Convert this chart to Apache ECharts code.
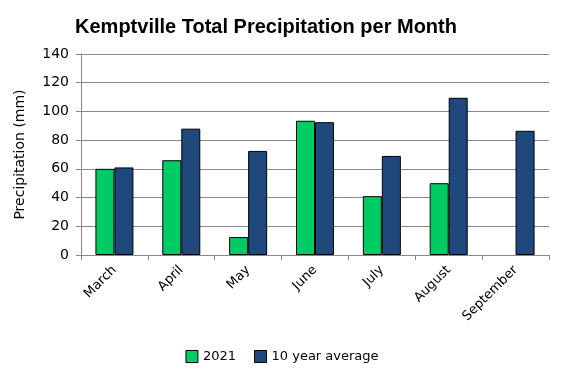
<!DOCTYPE html>
<html><head><meta charset="utf-8">
<script src="https://cdn.jsdelivr.net/npm/echarts@6/dist/echarts.min.js"></script>
<style>html,body{margin:0;padding:0;background:#fff}#c{width:564px;height:373px}</style>
</head><body><div id="c"></div>
<script>
const categories = ['March','April','May','June','July','August','September'];
const values2021 = [60, 66, 12.5, 93.5, 41, 50, null];
const valuesAvg = [61, 88, 72.5, 92.5, 69, 109.5, 86.5];
const yTicks = [0, 20, 40, 60, 80, 100, 120, 140];

const chart = echarts.init(document.getElementById('c'));
const font = 'DejaVu Sans';
chart.setOption({
  animation: false,
  backgroundColor: '#fff',
  title: {
    text: 'Kemptville Total Precipitation per Month',
    left: 261, top: 12, textAlign: 'center',
    textStyle: {fontFamily: 'Liberation Sans', fontWeight: 'bold', fontSize: 20, color: '#000'}
  },
  legend: {
    data: ['2021', '10 year average'],
    left: 'center', top: 345, itemWidth: 12, itemHeight: 12, itemGap: 18,
    icon: 'rect',
    textStyle: {fontFamily: font, fontSize: 13, color: '#000'},
    itemStyle: {borderColor: '#000', borderWidth: 1}
  },
  grid: {left: 81, right: 15, top: 54, bottom: 118},
  xAxis: {
    type: 'category', data: categories,
    axisLine: {lineStyle: {color: '#888'}},
    axisTick: {show: true, length: 5, lineStyle: {color: '#888'}},
    axisLabel: {rotate: 45, fontFamily: font, fontSize: 13, color: '#000', margin: 13}
  },
  yAxis: {
    type: 'value', min: yTicks[0], max: yTicks[yTicks.length-1], interval: 20,
    name: 'Precipitation (mm)', nameLocation: 'middle', nameGap: 54,
    nameTextStyle: {fontFamily: font, fontSize: 14, color: '#000'},
    axisLine: {show: true, lineStyle: {color: '#888'}},
    axisTick: {show: true, length: 5, lineStyle: {color: '#888'}},
    axisLabel: {fontFamily: font, fontSize: 14, color: '#000', margin: 12},
    splitLine: {lineStyle: {color: '#888'}}
  },
  series: [
    {name: '2021', type: 'bar', data: values2021, barGap: '0%', barWidth: 19,
     itemStyle: {color: '#00CC66', borderColor: '#000', borderWidth: 1}},
    {name: '10 year average', type: 'bar', data: valuesAvg, barWidth: 19,
     itemStyle: {color: '#1F497D', borderColor: '#000', borderWidth: 1}}
  ]
});
</script></body></html>
